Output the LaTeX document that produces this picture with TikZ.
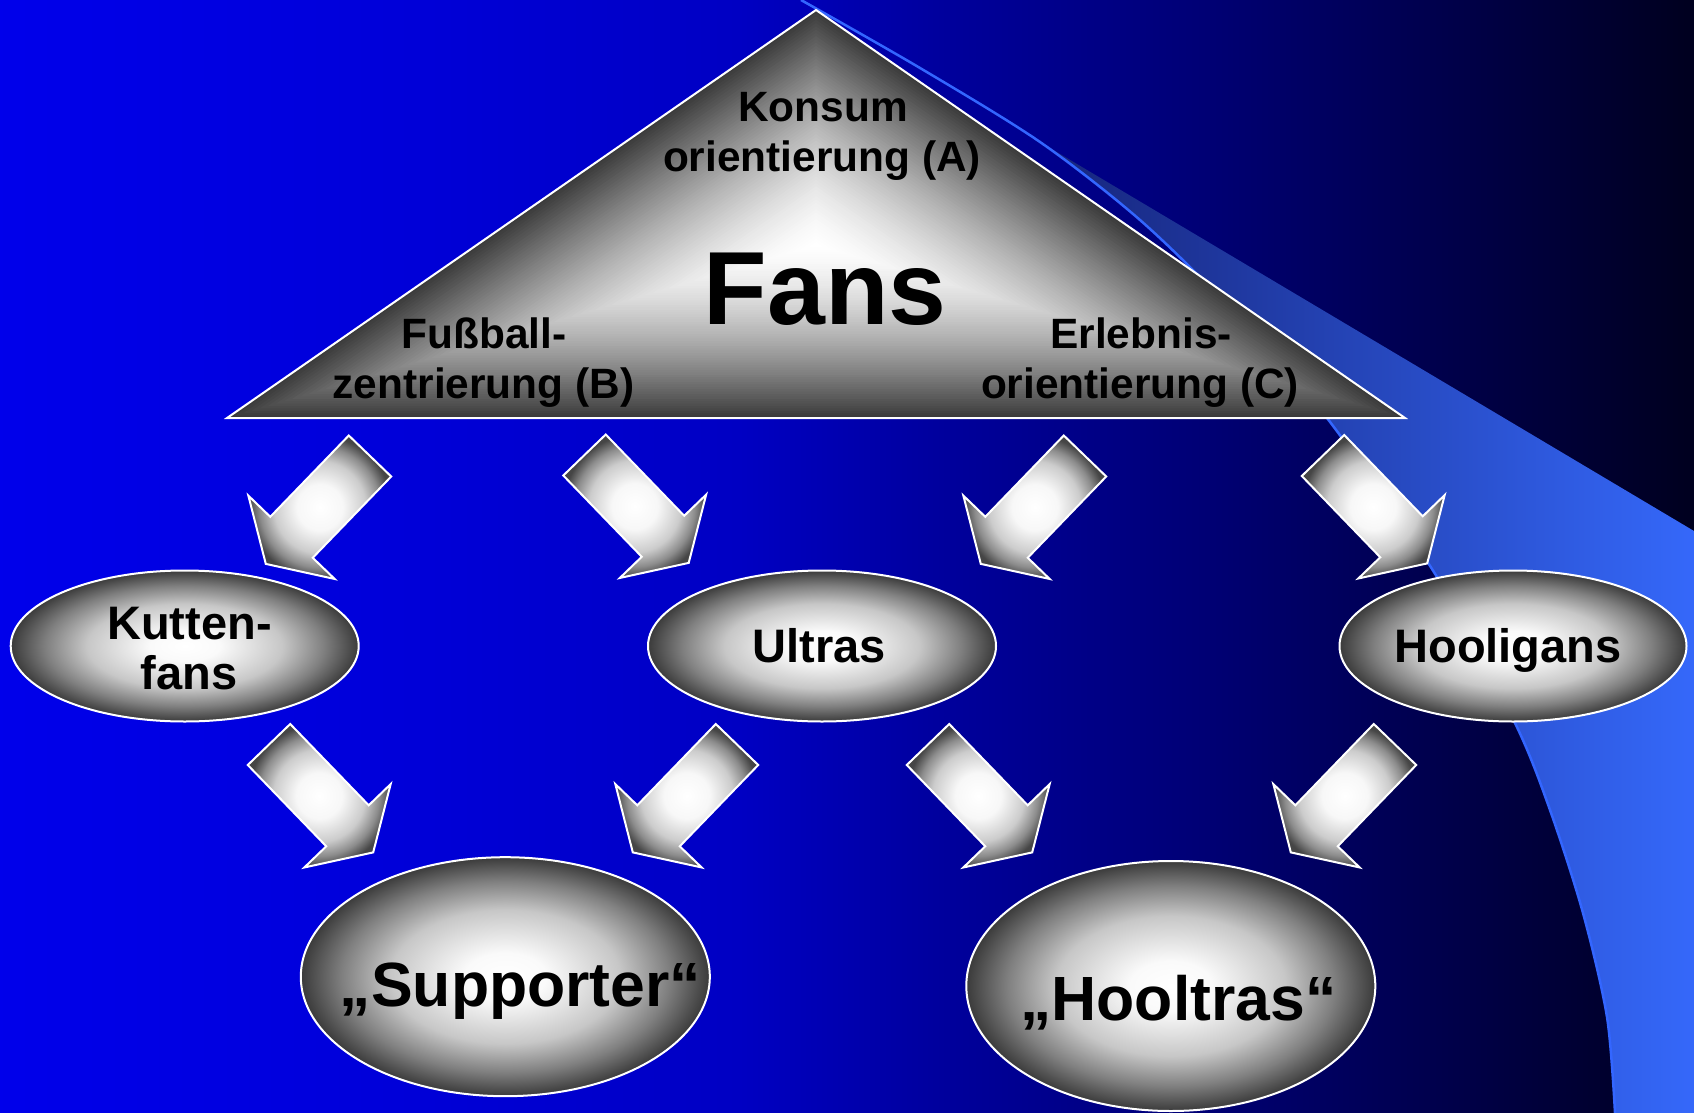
\documentclass[tikz,border=0pt]{standalone}
\usepackage{fontspec}
\setmainfont{Liberation Sans}
\usetikzlibrary{shapes.geometric}
\pgfdeclarehorizontalshading{bgshade}{100bp}{rgb(0bp)=(0,0,0.92); rgb(25bp)=(0,0,0.92); rgb(36.8bp)=(0,0,0.85); rgb(46.8bp)=(0,0,0.765); rgb(53bp)=(0,0,0.61); rgb(60.4bp)=(0,0,0.46); rgb(67.8bp)=(0,0,0.29); rgb(75bp)=(0,0,0.12); rgb(100bp)=(0,0,0.12)}
\pgfdeclareradialshading{gloss}{\pgfpoint{0bp}{0bp}}{gray(0bp)=(1); gray(5bp)=(0.98); gray(14bp)=(0.78); gray(20bp)=(0.5); gray(25bp)=(0.23); gray(50bp)=(0.23)}
\pgfdeclareradialshading{arrowgloss}{\pgfpoint{0bp}{0bp}}{gray(0bp)=(1); gray(8bp)=(0.97); gray(16bp)=(0.8); gray(21bp)=(0.55); gray(25bp)=(0.27); gray(50bp)=(0.25)}
\definecolor{edgegray}{gray}{0.23}
\definecolor{wedgeL}{HTML}{16247A}
\definecolor{wedgeM}{HTML}{2C52D0}
\definecolor{wedgeR}{HTML}{3568FA}
\definecolor{wedgeline}{HTML}{3366FF}
\newcommand\fanarrow[2]{\begin{scope}[shift={(#1)}, rotate=#2]
  \path[blockarrow] (0,-29.5) -- (113,-29.5) -- (113,-60) -- (150,0) -- (113,60) -- (113,29.5) -- (0,29.5) -- cycle;
\end{scope}}
\begin{document}
\begin{tikzpicture}[x=1pt,y=-1pt,
  bodyline/.style={draw=white, line width=2pt, line join=miter},
  blockarrow/.style={bodyline, shading=arrowgloss},
  oval/.style={ellipse, inner sep=0pt, draw=white, line width=2pt, shading=gloss},
  lbl/.style={anchor=base, inner sep=0pt, text=black, font=\bfseries\fontsize{42.4}{50}\selectfont},
  olbl/.style={anchor=base, inner sep=0pt, text=black, font=\bfseries\fontsize{47}{50}\selectfont},
  biglbl/.style={anchor=base, inner sep=0pt, text=black, font=\bfseries\fontsize{62.5}{70}\selectfont}]
\useasboundingbox (0,0) rectangle (1694,1113);
\clip (0,0) rectangle (1694,1113);
% background
\shade[shading=bgshade] (0,0) rectangle (1694,1113);
% light blue wedge
\path[left color=wedgeL, middle color=wedgeM, right color=wedgeR]
  (1040,142) -- (1694,531) -- (1694,1113) -- plot[smooth] coordinates {(1615,1113) (1607,1017) (1583,913) (1550,810) (1515,723) (1437,577) (1327,418) (1230,308) (1140,220) (1040,142)} -- cycle;
\draw[wedgeline, line width=2.5pt] plot[smooth] coordinates {(801,0) (920,68) (1040,142) (1140,220) (1230,308) (1327,418) (1437,577) (1515,723) (1550,810) (1583,913) (1607,1017) (1615,1113)};
% triangle with path gradient
\foreach \i in {0,...,71}{
  \pgfmathsetmacro\s{1-\i/72}
  \pgfmathsetmacro\w{100*(1-\s^1.5)}
  \fill[white!\w!edgegray, scale around={\s:(816,245)}] (816,10) -- (1405,418) -- (227,418) -- cycle;
}
\path[bodyline] (816,10) coordinate (apex) -- (1405,418) coordinate (br) -- (227,418) coordinate (bl) -- cycle;
% arrow tails
\coordinate (a1) at (370,456);
\coordinate (a2) at (584.5,455);
\coordinate (a3) at (1085,456);
\coordinate (a4) at (1323,455.5);
\coordinate (a5) at (269,744.5);
\coordinate (a6) at (737,744.5);
\coordinate (a7) at (928,744.5);
\coordinate (a8) at (1395,744.5);
\fanarrow{a1}{-134}
\fanarrow{a2}{-46}
\fanarrow{a3}{-134}
\fanarrow{a4}{-46}
\fanarrow{a5}{-46}
\fanarrow{a6}{-134}
\fanarrow{a7}{-46}
\fanarrow{a8}{-134}
% ellipses
\node[oval, minimum width=348pt, minimum height=151pt] (kutten) at (184.7,646) {};
\node[oval, minimum width=348pt, minimum height=151pt] (ultras) at (822,646) {};
\node[oval, minimum width=347pt, minimum height=151pt] (hooligans) at (1513,646) {};
\node[oval, minimum width=409pt, minimum height=239pt] (supporter) at (505.3,976.7) {};
\node[oval, minimum width=409pt, minimum height=250pt] (hooltras) at (1170.8,986) {};
% texts
\node[lbl] (tA1) at (823,121.5) {Konsum};
\node[lbl] (tA2) at (822,171.5) {orientierung (A)};
\node[anchor=base, inner sep=0pt, font=\bfseries\fontsize{104}{110}\selectfont] (tfans) at (825,324) {Fans};
\node[lbl] (tB1) at (484,348.5) {Fußball-};
\node[lbl] (tB2) at (483.5,398.5) {zentrierung (B)};
\node[lbl] (tC1) at (1141,348.5) {Erlebnis-};
\node[lbl] (tC2) at (1140,398.5) {orientierung (C)};
\node[olbl] (tk1) at (189.5,639.6) {Kutten-};
\node[olbl] (tk2) at (189,689.3) {fans};
\node[olbl] (tu) at (819.5,662.3) {Ultras};
\node[olbl] (th) at (1508,662.3) {Hooligans};
\node[biglbl] (ts) at (520.5,1006) {„Supporter“};
\node[biglbl] (tht) at (1178.3,1020) {„Hooltras“};
\end{tikzpicture}
\end{document}
